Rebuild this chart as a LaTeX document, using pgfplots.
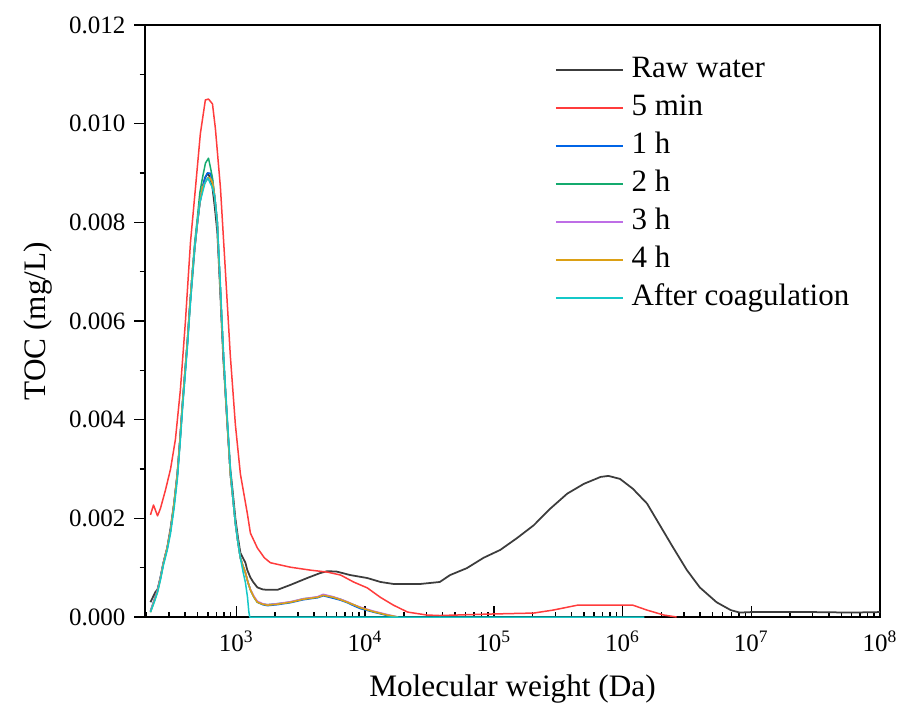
\documentclass[border=0pt]{standalone}
\usepackage{fontspec}
\setmainfont{Liberation Serif}
\usepackage{pgfplots}
\pgfplotsset{compat=1.18}
\definecolor{rawc}{RGB}{60,60,60}
\definecolor{c5m}{RGB}{255,60,60}
\definecolor{c1h}{RGB}{0,100,230}
\definecolor{c2h}{RGB}{20,170,110}
\definecolor{c3h}{RGB}{190,110,230}
\definecolor{c4h}{RGB}{220,160,20}
\definecolor{cac}{RGB}{20,200,200}
\begin{document}
\begin{tikzpicture}
\begin{axis}[
 scale only axis, width=294pt, height=236.8pt,
 xmode=log, xmin=195, xmax=1e8, ymin=0, ymax=0.012,
 xtick={1000,10000,100000,1000000,10000000,100000000},
 xticklabels={10\textsuperscript{3},10\textsuperscript{4},10\textsuperscript{5},10\textsuperscript{6},10\textsuperscript{7},10\textsuperscript{8}},
 minor xtick={200,300,400,500,600,700,800,900,2000,3000,4000,5000,6000,7000,8000,9000,20000,30000,40000,50000,60000,70000,80000,90000,200000,300000,400000,500000,600000,700000,800000,900000,2000000,3000000,4000000,5000000,6000000,7000000,8000000,9000000,20000000,30000000,40000000,50000000,60000000,70000000,80000000,90000000},
 ytick={0,0.002,0.004,0.006,0.008,0.010,0.012},
 minor ytick={0.001,0.003,0.005,0.007,0.009,0.011},
 scaled y ticks=false,
 yticklabel style={/pgf/number format/.cd,fixed,fixed zerofill,precision=3,assume math mode=true},
 xticklabel style={yshift=-2pt},
 xtick pos=left, ytick pos=left,
 xtick align=inside, ytick align=outside,
 major tick length=4.3pt, minor tick length=2.2pt,
 every tick/.style={black, line width=0.6pt},
 axis line style={line width=0.8pt},
 xlabel={Molecular weight (Da)}, ylabel={TOC (mg/L)},
 xlabel style={yshift=-2.5pt},
 label style={font=\fontsize{12.5}{15}\selectfont},
 tick label style={font=\fontsize{10}{12}\selectfont},
 legend cell align=left,
 legend style={at={(0.547,0.959)}, anchor=north west, draw=none, fill=none,
   font=\fontsize{12.4}{15}\selectfont, row sep=3.2pt, column sep=3pt,
   nodes={inner sep=0pt, text height=9pt, text depth=3pt}},
 legend image code/.code={\draw[#1, line width=0.6pt] (0pt,0pt) -- (27pt,0pt);},
 every axis plot/.append style={line width=0.6pt, line join=round},
]
% Raw water
\addplot[rawc, line width=0.7pt] coordinates {
(215,0.0003)(234,0.0005)(244,0.00056)(257,0.0008)(271,0.0011)(290,0.0014)(308,0.0018)(328,0.0023)(348,0.0029)(365,0.0036)(381,0.0043)(400,0.005)(417,0.0056)(435,0.0063)(455,0.0069)(475,0.0075)(498,0.0080)(520,0.0084)(545,0.0087)(570,0.0089)(600,0.0090)(625,0.0089)(652,0.0087)(680,0.0083)(711,0.0078)(730,0.0072)(752,0.0065)(770,0.0059)(793,0.0052)(820,0.0046)(851,0.0039)(875,0.0034)(897,0.0030)(940,0.0025)(982,0.0020)(1030,0.0016)(1074,0.0013)(1175,0.0011)(1216,0.00095)(1285,0.0008)(1350,0.00071)(1455,0.0006)(1600,0.00056)(1742,0.00055)(2080,0.00055)(2624,0.00065)(3548,0.00079)(4467,0.00089)(5100,0.00093)(6026,0.00092)(7674,0.00085)(10400,0.00079)(13180,0.00071)(16600,0.00067)(26920,0.00067)(38020,0.00071)(45700,0.00085)(61660,0.00099)(83180,0.0012)(112200,0.00136)(151400,0.0016)(204200,0.00186)(275400,0.0022)(371500,0.0025)(501200,0.0027)(676100,0.00284)(776200,0.00286)(955000,0.0028)(1202000,0.0026)(1549000,0.0023)(1950000,0.00186)(2455000,0.00142)(3162000,0.00095)(3981000,0.0006)(5370000,0.0003)(6918000,0.00014)(8128000,0.00009)(10000000,0.0001)(30000000,0.0001)(60000000,0.00009)(100000000,0.0001)
};
\addlegendentry{Raw water}
% 5 min
\addplot[c5m] coordinates {
(215,0.00207)(227,0.00227)(244,0.00205)(257,0.0022)(281,0.00257)(308,0.0030)(336,0.0036)(367,0.0046)(402,0.0060)(440,0.0076)(481,0.0087)(525,0.0098)(574,0.01048)(607,0.0105)(652,0.0104)(687,0.0099)(752,0.0087)(822,0.0070)(897,0.0053)(982,0.0039)(1074,0.0029)(1216,0.0021)(1285,0.0017)(1455,0.0014)(1650,0.0012)(1837,0.0011)(2624,0.00101)(3758,0.00095)(5093,0.00091)(6457,0.00085)(8128,0.00071)(10400,0.00059)(13120,0.0004)(16600,0.00024)(21380,0.0001)(30200,0.00004)(38020,0.00003)(93330,0.00006)(204200,0.00008)(288400,0.00014)(446700,0.00024)(1202000,0.00024)(1549000,0.00014)(2089000,0.00004)(2630000,0)
};
\addlegendentry{5 min}
% 1 h
\addplot[c1h] coordinates {
(215,0.00012)(230,0.00035)(244,0.00055)(257,0.0008)(271,0.0011)(290,0.0014)(308,0.00176)(328,0.0023)(348,0.0029)(365,0.0036)(381,0.0043)(400,0.005)(417,0.0056)(435,0.0063)(455,0.0070)(475,0.0075)(498,0.0080)(520,0.0084)(545,0.0087)(570,0.0089)(596,0.0090)(625,0.0090)(652,0.00886)(680,0.0085)(711,0.0080)(730,0.0073)(752,0.0066)(770,0.0060)(793,0.0053)(820,0.0046)(851,0.0039)(875,0.0034)(897,0.0029)(940,0.0024)(982,0.0019)(1030,0.0015)(1074,0.0012)(1120,0.00105)(1175,0.0009)(1230,0.0007)(1285,0.00055)(1370,0.0004)(1455,0.0003)(1600,0.00025)(1742,0.00023)(2080,0.00025)(2624,0.00029)(3311,0.00035)(4256,0.00039)(4732,0.00043)(5662,0.00038)(6457,0.00034)(7278,0.00029)(8128,0.00023)(9183,0.00017)(11590,0.0001)(14860,0.00003)(17000,0)
};
\addlegendentry{1 h}
% 2 h
\addplot[c2h] coordinates {
(215,0.0001)(230,0.00033)(244,0.00053)(257,0.0008)(271,0.0011)(290,0.0014)(308,0.00176)(328,0.0023)(348,0.0029)(365,0.0036)(381,0.0043)(400,0.005)(417,0.0056)(435,0.0063)(455,0.0070)(475,0.0076)(498,0.0081)(520,0.0086)(545,0.0089)(575,0.0092)(607,0.0093)(630,0.0091)(652,0.0089)(680,0.0085)(711,0.0080)(730,0.0073)(752,0.0066)(770,0.0060)(793,0.0053)(820,0.0046)(851,0.0039)(875,0.0034)(897,0.0029)(940,0.0024)(982,0.0019)(1030,0.0015)(1074,0.0012)(1120,0.00105)(1175,0.0009)(1230,0.0007)(1285,0.00055)(1370,0.0004)(1455,0.0003)(1600,0.00026)(1742,0.00025)(2080,0.00027)(2624,0.0003)(3311,0.00037)(4256,0.0004)(4732,0.00045)(5662,0.0004)(6457,0.00036)(7278,0.0003)(8128,0.00025)(9183,0.00019)(11590,0.00011)(14860,0.00004)(17500,0)
};
\addlegendentry{2 h}
% 3 h
\addplot[c3h] coordinates {
(215,0.00012)(230,0.00034)(244,0.00054)(257,0.0008)(271,0.0011)(290,0.0014)(308,0.00176)(328,0.0023)(348,0.0029)(365,0.0036)(381,0.0043)(400,0.005)(417,0.0056)(435,0.0063)(455,0.0070)(475,0.0075)(498,0.0080)(520,0.0084)(545,0.0087)(570,0.0088)(600,0.0089)(625,0.0089)(652,0.0088)(680,0.0085)(711,0.0080)(730,0.0073)(752,0.0066)(770,0.0060)(793,0.0053)(820,0.0046)(851,0.0039)(875,0.0034)(897,0.0029)(940,0.0024)(982,0.0019)(1030,0.0015)(1074,0.0012)(1120,0.00105)(1175,0.0009)(1230,0.0007)(1285,0.00056)(1370,0.00042)(1455,0.00032)(1600,0.00027)(1742,0.00025)(2080,0.00027)(2624,0.00031)(3311,0.00037)(4256,0.00041)(4732,0.00046)(5662,0.00041)(6457,0.00036)(7278,0.00031)(8128,0.00025)(9183,0.0002)(11590,0.00012)(14860,0.00005)(18000,0)
};
\addlegendentry{3 h}
% 4 h
\addplot[c4h] coordinates {
(215,0.0001)(230,0.00032)(244,0.00052)(257,0.00078)(271,0.00108)(290,0.0014)(308,0.00175)(328,0.0023)(348,0.0029)(365,0.0036)(381,0.0043)(400,0.005)(417,0.0056)(435,0.0063)(455,0.0070)(475,0.0075)(498,0.0080)(520,0.0084)(545,0.0087)(570,0.0088)(600,0.0089)(625,0.0089)(652,0.0088)(680,0.0085)(711,0.0080)(730,0.0073)(752,0.0066)(770,0.0060)(793,0.0053)(820,0.0046)(851,0.0039)(875,0.0034)(897,0.0029)(940,0.0024)(982,0.0019)(1030,0.0015)(1074,0.0012)(1120,0.00105)(1175,0.0009)(1230,0.0007)(1285,0.00055)(1370,0.0004)(1455,0.0003)(1600,0.00026)(1742,0.00024)(2080,0.00026)(2624,0.0003)(3311,0.00036)(4256,0.0004)(4732,0.00044)(5662,0.0004)(6457,0.00035)(7278,0.0003)(8128,0.00025)(9183,0.00019)(11590,0.00011)(14860,0.00004)(18000,0)
};
\addlegendentry{4 h}
% After coagulation
\addplot[cac] coordinates {
(215,0.0001)(230,0.0003)(244,0.0005)(257,0.00075)(271,0.00105)(290,0.00135)(308,0.0017)(328,0.0022)(348,0.0028)(365,0.0035)(381,0.0042)(400,0.0049)(417,0.0055)(435,0.0062)(455,0.0069)(475,0.0075)(498,0.0080)(520,0.0084)(545,0.0086)(570,0.0088)(600,0.0089)(625,0.0088)(652,0.0087)(680,0.0085)(711,0.0080)(730,0.0074)(752,0.0067)(770,0.0061)(793,0.0054)(820,0.0047)(851,0.0040)(875,0.0035)(897,0.0030)(940,0.0024)(982,0.0019)(1030,0.0015)(1074,0.0012)(1130,0.0009)(1175,0.0007)(1220,0.0004)(1250,0.0001)(1270,0)(1480000,0)
};
\addlegendentry{After coagulation}
\end{axis}
\pgfresetboundingbox
\path[use as bounding box] ([shift={(-58pt,-34.8pt)}]current axis.south west) rectangle ([shift={(6.8pt,10pt)}]current axis.north east);
\end{tikzpicture}
\end{document}
